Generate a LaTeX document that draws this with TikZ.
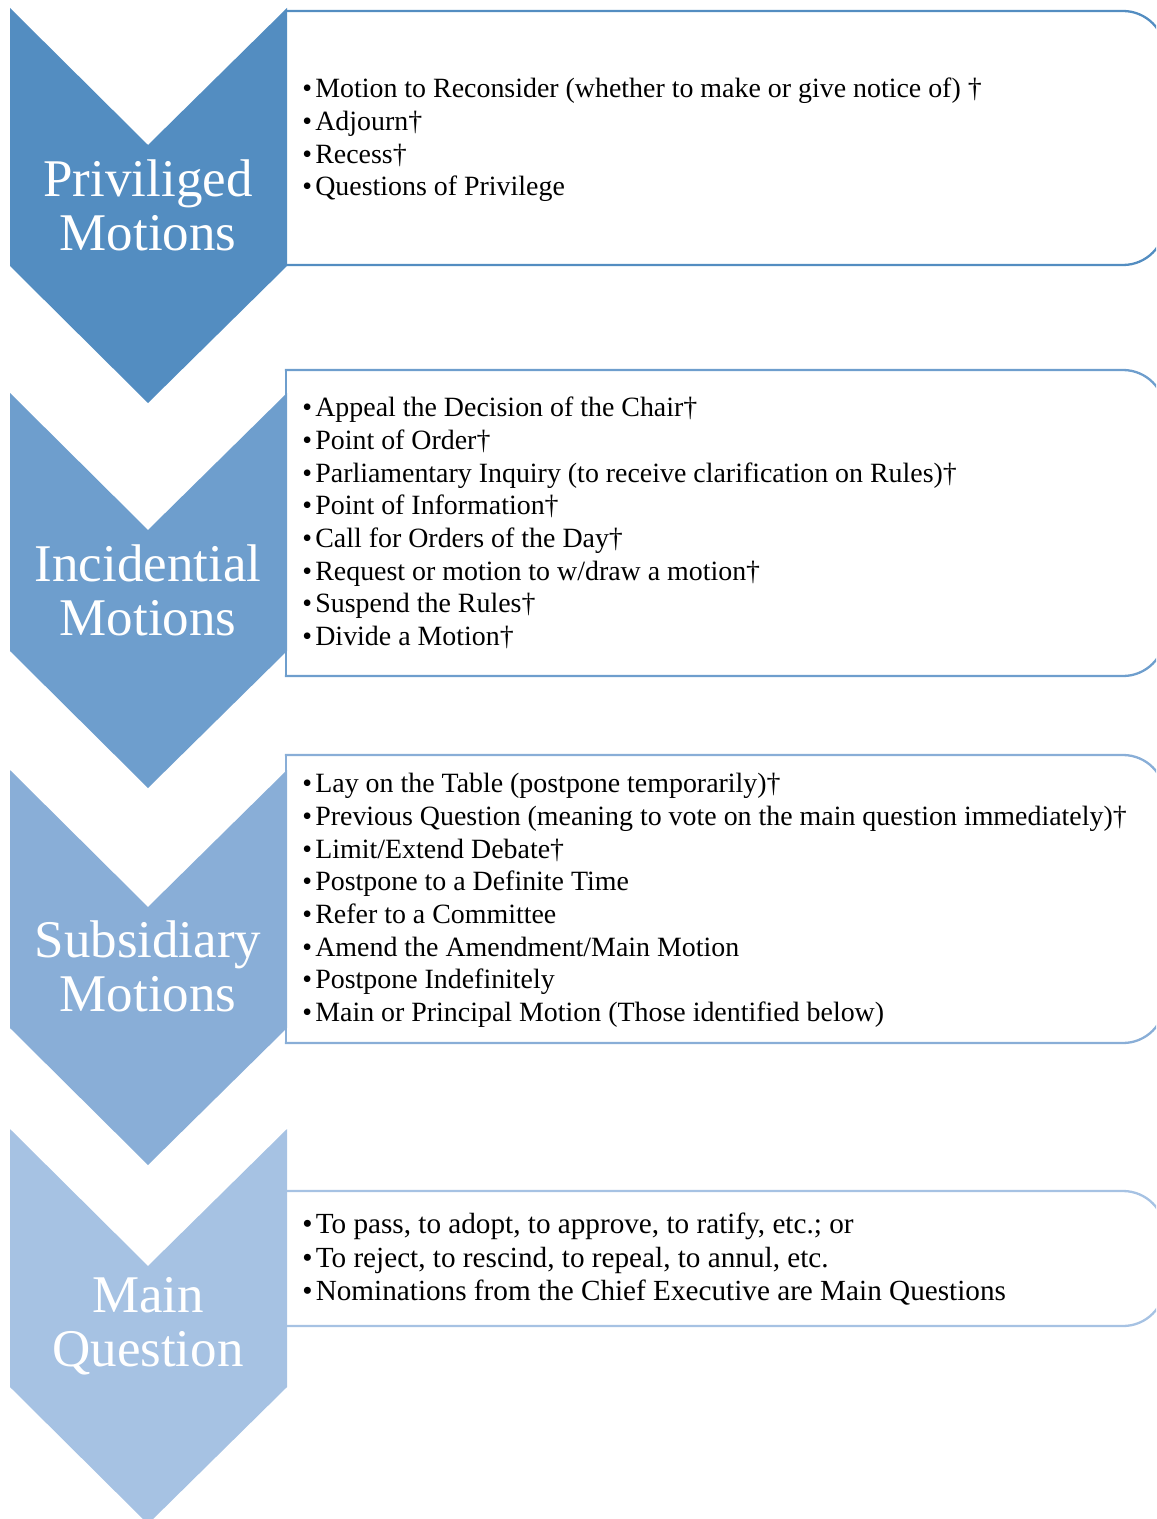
\documentclass[tikz,border=0pt]{standalone}
\usepackage{fontspec}
\setmainfont{Liberation Serif}
\usepackage{xcolor}
\usepackage{tikz}

\definecolor{levelA}{RGB}{83,141,193}
\definecolor{levelB}{RGB}{110,158,205}
\definecolor{levelC}{RGB}{137,174,215}
\definecolor{levelD}{RGB}{166,194,227}

\newcommand{\itembul}{\textbullet\kern1.6pt}

\tikzset{
  chevron/.style={draw=none},
  listbox/.style={line width=1.15pt, line cap=rect},
  chevlabel/.style={text=white, align=center, inner sep=0pt,
    font=\fontsize{26.5}{27}\selectfont},
  itemlist/.style={anchor=west, align=left, inner sep=0pt,
    font=\fontsize{13.95}{16.35}\selectfont},
  itemlistwide/.style={itemlist, font=\fontsize{14.6}{16.75}\selectfont},
}

\begin{document}
\begin{tikzpicture}[x=0.5pt, y=-0.5pt]
    \useasboundingbox (0,0) rectangle (1156,1519);
    \clip (0,0) rectangle (1156,1519);

    % Draw the boxes
    \draw[listbox, draw=levelA, rounded corners=21pt] (286,11) -- (1165,11) -- (1165,265) -- (286,265);
    \draw[listbox, draw=levelA] (286,11) -- (286,265);
    \draw[listbox, draw=levelB, rounded corners=21pt] (286,370) -- (1165,370) -- (1165,676) -- (286,676);
    \draw[listbox, draw=levelB] (286,370) -- (286,676);
    \draw[listbox, draw=levelC, rounded corners=21pt] (286,755) -- (1165,755) -- (1165,1043) -- (286,1043);
    \draw[listbox, draw=levelC] (286,755) -- (286,1043);
    \draw[listbox, draw=levelD, rounded corners=21pt] (286,1191) -- (1165,1191) -- (1165,1326) -- (286,1326);
    \draw[listbox, draw=levelD] (286,1191) -- (286,1326);

    % Draw the chevrons
    \fill[chevron, levelA] (10,8) -- (148,145) -- (287,8) -- (287,266) -- (148,403) -- (10,266) -- cycle;
    \fill[chevron, levelB] (10,393) -- (148,530) -- (287,393) -- (287,651) -- (148,788) -- (10,651) -- cycle;
    \fill[chevron, levelC] (10,770) -- (148,907) -- (287,770) -- (287,1028) -- (148,1165) -- (10,1028) -- cycle;
    \fill[chevron, levelD] (10,1129) -- (148,1266) -- (287,1129) -- (287,1387) -- (148,1524) -- (10,1387) -- cycle;

    % Labels inside the chevrons
    \node[chevlabel] (privLabel) at (148,205) {Priviliged\\Motions};
    \node[chevlabel] (incidLabel) at (148,590) {Incidential\\Motions};
    \node[chevlabel] (subsLabel) at (148,966) {Subsidiary\\Motions};
    \node[chevlabel] (mainLabel) at (148,1326) {Main\\Question};

    % Items in the boxes
    \node[itemlist] (privItems) at (302,140) {%
      \itembul Motion to Reconsider (whether to make or give notice of) †\\
      \itembul Adjourn†\\
      \itembul Recess†\\
      \itembul Questions of Privilege};
    \node[itemlist] (incidItems) at (302,523) {%
      \itembul Appeal the Decision of the Chair†\\
      \itembul Point of Order†\\
      \itembul Parliamentary Inquiry (to receive clarification on Rules)†\\
      \itembul Point of Information†\\
      \itembul Call for Orders of the Day†\\
      \itembul Request or motion to w/draw a motion†\\
      \itembul Suspend the Rules†\\
      \itembul Divide a Motion†};
    \node[itemlist] (subsItems) at (302,900.5) {%
      \itembul Lay on the Table (postpone temporarily)†\\
      \itembul Previous Question (meaning to vote on the main question immediately)†\\
      \itembul Limit/Extend Debate†\\
      \itembul Postpone to a Definite Time\\
      \itembul Refer to a Committee\\
      \itembul Amend the Amendment/Main Motion\\
      \itembul Postpone Indefinitely\\
      \itembul Main or Principal Motion (Those identified below)};
    \node[itemlistwide] (mainItems) at (302,1259.5) {%
      \itembul To pass, to adopt, to approve, to ratify, etc.; or\\
      \itembul To reject, to rescind, to repeal, to annul, etc.\\
      \itembul Nominations from the Chief Executive are Main Questions};
\end{tikzpicture}
\end{document}
